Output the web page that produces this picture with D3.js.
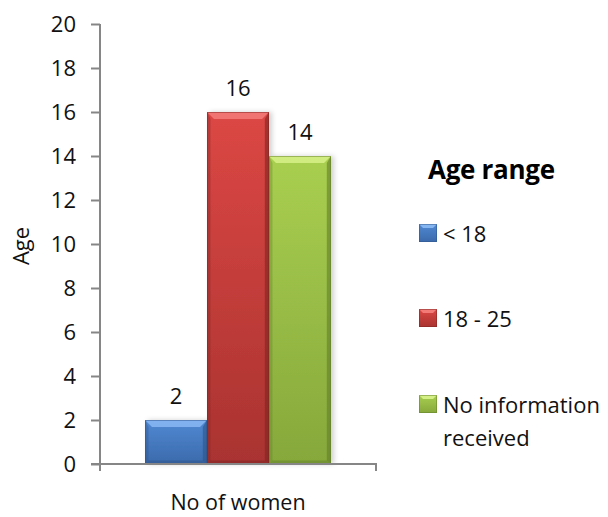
<!DOCTYPE html>
<html>
<head>
<meta charset="utf-8">
<script src="https://cdn.jsdelivr.net/npm/d3@7"></script>
<style>
  html, body { margin: 0; padding: 0; background: #fff; }
  svg { display: block; font-family: "Open Sans", "Liberation Sans", Arial, sans-serif; }
</style>
</head>
<body>
<svg id="chart" width="608" height="517"></svg>
<script>
// Data
const categories = ["No of women"];
const seriesNames = ["< 18", "18 - 25", "No information received"];
const seriesValues = [2, 16, 14];
const yTicks = [0, 2, 4, 6, 8, 10, 12, 14, 16, 18, 20];

// Per-series colours: body top, body bottom, bevel highlight, edge shade
const palette = [
  { top: "#5089d3", bottom: "#3b6aab", light: "#86b6f2", dark: "#2d5488" },
  { top: "#dc4744", bottom: "#a93330", light: "#f27a77", dark: "#7d2422" },
  { top: "#a9cf50", bottom: "#86a83b", light: "#d4ef86", dark: "#627d2a" }
];

const FONT = "'Open Sans', 'Liberation Sans', Arial, sans-serif";
const svg = d3.select("#chart");
const margin = { left: 100, right: 232, top: 24, bottom: 53 };
const W = 608, H = 517;

const x = d3.scaleBand().domain(categories).range([margin.left, W - margin.right]).paddingInner(0).paddingOuter(0);
const xSeries = d3.scaleBand().domain(seriesNames).range([0, x.bandwidth()]).paddingOuter(0.726).paddingInner(0);
const y = d3.scaleLinear().domain([0, 20]).range([H - margin.bottom, margin.top]);

const defs = svg.append("defs");
palette.forEach((p, i) => {
  const g = defs.append("linearGradient").attr("id", "body" + i).attr("x1", 0).attr("y1", 0).attr("x2", 0).attr("y2", 1);
  g.append("stop").attr("offset", "0%").attr("stop-color", p.top);
  g.append("stop").attr("offset", "100%").attr("stop-color", p.bottom);
});
const shadow = defs.append("filter").attr("id", "shadow").attr("x", "-20%").attr("y", "-20%").attr("width", "150%").attr("height", "140%");
shadow.append("feDropShadow").attr("dx", 3).attr("dy", 0).attr("stdDeviation", 2.5).attr("flood-color", "#000").attr("flood-opacity", 0.18);

const axisColor = "#868686";

// Y axis
const yAxis = svg.append("g").attr("transform", `translate(${margin.left},0)`)
  .call(d3.axisLeft(y).tickValues(yTicks).tickSize(9).tickPadding(15).tickFormat(d3.format("d")));
yAxis.select(".domain").attr("stroke", axisColor).attr("stroke-width", 2).attr("d", `M0,${y(20)}V${y(0)}`);
yAxis.selectAll(".tick line").attr("stroke", axisColor).attr("stroke-width", 2);
yAxis.selectAll(".tick text").attr("fill", "#111").style("font-size", "22px").style("font-family", FONT);

// Bars
const bev = 7;
const barG = svg.append("g");
seriesNames.forEach((name, i) => {
  const v = seriesValues[i];
  const x0 = x(categories[0]) + xSeries(name);
  const w = xSeries.bandwidth();
  const y0 = y(v), y1 = y(0);
  const p = palette[i];
  const g = barG.append("g");
  g.append("rect").attr("x", x0).attr("y", y0).attr("width", w).attr("height", y1 - y0)
    .attr("fill", `url(#body${i})`).attr("filter", "url(#shadow)");
  // bevel: top highlight
  g.append("polygon").attr("points", [[x0, y0], [x0 + w, y0], [x0 + w - bev, y0 + bev], [x0 + bev, y0 + bev]].map(d => d.join(",")).join(" "))
    .attr("fill", p.light).attr("opacity", 0.9);
  // left edge
  g.append("polygon").attr("points", [[x0, y0], [x0 + bev * 0.5, y0 + bev], [x0 + bev * 0.5, y1 - bev * 0.5], [x0, y1]].map(d => d.join(",")).join(" "))
    .attr("fill", p.dark).attr("opacity", 0.35);
  // right edge
  g.append("polygon").attr("points", [[x0 + w, y0], [x0 + w - bev * 0.6, y0 + bev], [x0 + w - bev * 0.6, y1 - bev * 0.5], [x0 + w, y1]].map(d => d.join(",")).join(" "))
    .attr("fill", p.dark).attr("opacity", 0.6);
  // bottom edge
  g.append("polygon").attr("points", [[x0, y1], [x0 + bev * 0.5, y1 - bev * 0.5], [x0 + w - bev * 0.6, y1 - bev * 0.5], [x0 + w, y1]].map(d => d.join(",")).join(" "))
    .attr("fill", p.dark).attr("opacity", 0.5);
  // outline
  g.append("rect").attr("x", x0 + 0.5).attr("y", y0 + 0.5).attr("width", w - 1).attr("height", y1 - y0 - 1)
    .attr("fill", "none").attr("stroke", p.dark).attr("stroke-opacity", 0.5).attr("stroke-width", 1);
  // value label
  svg.append("text").attr("x", x0 + w / 2).attr("y", y0 - 16).attr("text-anchor", "middle")
    .style("font-size", "22px").style("font-family", FONT).attr("fill", "#111").text(v);
});

// X axis
const xAxis = svg.append("g").attr("transform", `translate(0,${y(0)})`)
  .call(d3.axisBottom(x).tickSize(0).tickPadding(31));
xAxis.select(".domain").attr("stroke", axisColor).attr("stroke-width", 2)
  .attr("d", `M${margin.left - 9},0H${W - margin.right}V7M${margin.left},0V7`);
xAxis.selectAll(".tick text").attr("fill", "#111").style("font-size", "21.5px")
  .style("font-family", FONT).attr("dy", "0.71em");

// Y title
svg.append("text").attr("transform", `translate(29,246) rotate(-90)`).attr("text-anchor", "middle")
  .style("font-size", "22px").style("font-family", FONT).attr("fill", "#111").text("Age");

// Legend
svg.append("text").attr("x", 428).attr("y", 179).style("font-size", "26px").style("font-weight", "bold")
  .style("font-family", FONT).style("letter-spacing", "-0.3px").attr("fill", "#000").text("Age range");
const legendRows = [
  { lines: ["< 18"], y: 242 },
  { lines: ["18 - 25"], y: 327 },
  { lines: ["No information", "received"], y: 413 }
];
legendRows.forEach((r, i) => {
  const p = palette[i];
  const sq = svg.append("g");
  sq.append("rect").attr("x", 419).attr("y", r.y - 18).attr("width", 18).attr("height", 18).attr("fill", `url(#body${i})`);
  sq.append("polygon").attr("points", [[419, r.y - 18], [437, r.y - 18], [433, r.y - 14], [423, r.y - 14]].map(d => d.join(",")).join(" ")).attr("fill", p.light);
  sq.append("rect").attr("x", 419.5).attr("y", r.y - 17.5).attr("width", 17).attr("height", 17).attr("fill", "none").attr("stroke", p.dark).attr("stroke-opacity", 0.5);
  const t = svg.append("text").attr("x", 443).attr("y", r.y).style("font-size", "22px").style("font-family", FONT).attr("fill", "#111");
  r.lines.forEach((ln, k) => t.append("tspan").attr("x", 443).attr("y", r.y + k * 33).text(ln));
});
</script>
</body>
</html>
